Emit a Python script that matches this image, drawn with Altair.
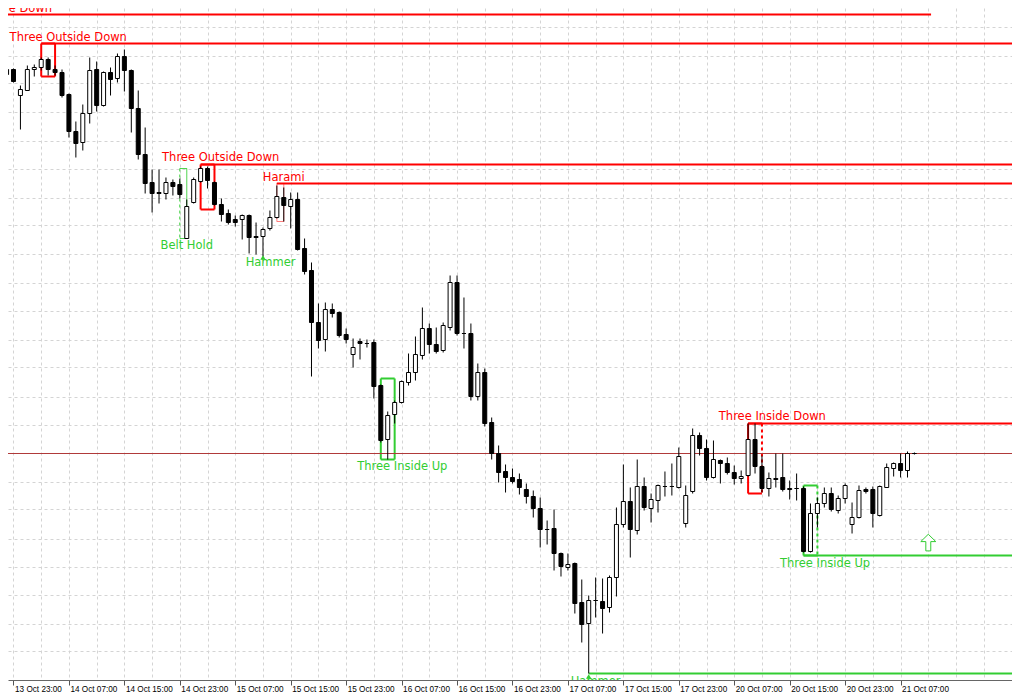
import json
import altair as alt
import pandas as pd

# ---------------- data (hourly bars, index 0 = 13 Oct 23:00) ----------------
bar_index = list(range(-1, 131))

open_ = [1.2106, 1.2111, 1.2085, 1.2090, 1.2111, 1.2113, 1.2121, 1.2111, 1.2108, 1.2086,
         1.2049, 1.2038, 1.2067, 1.2111, 1.2075, 1.2108, 1.2102, 1.2124, 1.2110, 1.2072,
         1.2026, 1.1998, 1.1988, 1.1987, 1.1998, 1.1996, 1.1942, 1.1978, 1.1999, 1.2012,
         1.1998, 1.1976, 1.1967, 1.1961, 1.1961, 1.1965, 1.1944, 1.1944, 1.1952, 1.1963,
         1.1983, 1.1974, 1.1981, 1.1932, 1.1910, 1.1858, 1.1841, 1.1871, 1.1868, 1.1846,
         1.1826, 1.1839, 1.1837, 1.1838, 1.1795, 1.1741, 1.1766, 1.1778, 1.1798, 1.1808,
         1.1825, 1.1852, 1.1836, 1.1830, 1.1853, 1.1898, 1.1847, 1.1847, 1.1784, 1.1808,
         1.1758, 1.1727, 1.1709, 1.1703, 1.1701, 1.1691, 1.1684, 1.1672, 1.1651, 1.1652,
         1.1627, 1.1613, 1.1617, 1.1578, 1.1557, 1.1580, 1.1579, 1.1573, 1.1603, 1.1656,
         1.1679, 1.1650, 1.1694, 1.1672, 1.1680, 1.1694, 1.1694, 1.1693, 1.1657, 1.1689,
         1.1745, 1.1732, 1.1703, 1.1720, 1.1717, 1.1708, 1.1702, 1.1705, 1.1741, 1.1714,
         1.1692, 1.1702, 1.1703, 1.1692, 1.1692, 1.1692, 1.1629, 1.1667, 1.1677, 1.1687,
         1.1670, 1.1682, 1.1656, 1.1663, 1.1691, 1.1691, 1.1665, 1.1693, 1.1712, 1.1717,
         1.1710, 1.1727]

high = [1.2114, 1.2112, 1.2095, 1.2115, 1.2116, 1.2123, 1.2123, 1.2115, 1.2111, 1.2087,
        1.2059, 1.2076, 1.2123, 1.2119, 1.2109, 1.2113, 1.2127, 1.2131, 1.2111, 1.2090,
        1.2053, 1.2011, 1.2011, 1.2003, 1.2001, 1.2002, 1.1981, 1.2003, 1.2014, 1.2014,
        1.1999, 1.1982, 1.1971, 1.1965, 1.1966, 1.1966, 1.1958, 1.1953, 1.1970, 1.1995,
        1.1993, 1.1988, 1.1988, 1.1942, 1.1918, 1.1877, 1.1878, 1.1877, 1.1869, 1.1852,
        1.1842, 1.1842, 1.1841, 1.1841, 1.1796, 1.1769, 1.1780, 1.1800, 1.1827, 1.1844,
        1.1873, 1.1857, 1.1853, 1.1858, 1.1905, 1.1905, 1.1883, 1.1857, 1.1817, 1.1812,
        1.1763, 1.1735, 1.1716, 1.1712, 1.1707, 1.1697, 1.1690, 1.1683, 1.1660, 1.1671,
        1.1628, 1.1627, 1.1618, 1.1601, 1.1585, 1.1603, 1.1602, 1.1605, 1.1673, 1.1716,
        1.1693, 1.1721, 1.1703, 1.1687, 1.1696, 1.1709, 1.1717, 1.1733, 1.1695, 1.1752,
        1.1748, 1.1741, 1.1740, 1.1721, 1.1723, 1.1715, 1.1710, 1.1757, 1.1757, 1.1725,
        1.1708, 1.1727, 1.1727, 1.1700, 1.1707, 1.1694, 1.1677, 1.1683, 1.1693, 1.1693,
        1.1685, 1.1697, 1.1678, 1.1695, 1.1693, 1.1694, 1.1695, 1.1717, 1.1718, 1.1727,
        1.1729, 1.1728]

low = [1.2098, 1.2098, 1.2051, 1.2090, 1.2104, 1.2110, 1.2105, 1.2105, 1.2083, 1.2043,
       1.2023, 1.2030, 1.2057, 1.2069, 1.2074, 1.2085, 1.2098, 1.2089, 1.2048, 1.2021,
       1.1987, 1.1968, 1.1977, 1.1981, 1.1985, 1.1982, 1.1942, 1.1977, 1.1998, 1.1992,
       1.1975, 1.1959, 1.1956, 1.1954, 1.1941, 1.1927, 1.1926, 1.1924, 1.1950, 1.1962,
       1.1959, 1.1952, 1.1930, 1.1906, 1.1804, 1.1832, 1.1829, 1.1863, 1.1843, 1.1837,
       1.1813, 1.1821, 1.1833, 1.1782, 1.1738, 1.1721, 1.1757, 1.1777, 1.1795, 1.1800,
       1.1821, 1.1827, 1.1827, 1.1828, 1.1850, 1.1845, 1.1832, 1.1780, 1.1780, 1.1754,
       1.1721, 1.1698, 1.1688, 1.1697, 1.1686, 1.1677, 1.1663, 1.1633, 1.1636, 1.1610,
       1.1604, 1.1610, 1.1567, 1.1538, 1.1507, 1.1563, 1.1547, 1.1568, 1.1584, 1.1653,
       1.1623, 1.1646, 1.1670, 1.1658, 1.1668, 1.1684, 1.1685, 1.1692, 1.1653, 1.1687,
       1.1725, 1.1700, 1.1702, 1.1697, 1.1706, 1.1696, 1.1697, 1.1704, 1.1707, 1.1688,
       1.1684, 1.1693, 1.1689, 1.1681, 1.1680, 1.1628, 1.1628, 1.1653, 1.1673, 1.1669,
       1.1667, 1.1677, 1.1647, 1.1662, 1.1687, 1.1653, 1.1664, 1.1693, 1.1704, 1.1703,
       1.1703, 1.1726]

close = [1.2111, 1.2099, 1.2091, 1.2111, 1.2113, 1.2121, 1.2111, 1.2108, 1.2085, 1.2049,
         1.2037, 1.2067, 1.2110, 1.2075, 1.2108, 1.2101, 1.2124, 1.2110, 1.2072, 1.2026,
         1.1997, 1.1987, 1.1987, 1.1998, 1.1994, 1.1986, 1.1974, 1.2001, 1.2012, 1.2000,
         1.1976, 1.1966, 1.1958, 1.1958, 1.1965, 1.1943, 1.1943, 1.1951, 1.1963, 1.1984,
         1.1975, 1.1981, 1.1931, 1.1909, 1.1858, 1.1840, 1.1871, 1.1867, 1.1845, 1.1841,
         1.1833, 1.1837, 1.1837, 1.1794, 1.1740, 1.1765, 1.1778, 1.1799, 1.1808, 1.1826,
         1.1852, 1.1836, 1.1829, 1.1855, 1.1898, 1.1847, 1.1847, 1.1784, 1.1808, 1.1757,
         1.1727, 1.1708, 1.1703, 1.1699, 1.1693, 1.1684, 1.1672, 1.1651, 1.1651, 1.1627,
         1.1614, 1.1616, 1.1577, 1.1556, 1.1580, 1.1580, 1.1572, 1.1603, 1.1656, 1.1679,
         1.1651, 1.1694, 1.1673, 1.1681, 1.1695, 1.1694, 1.1694, 1.1724, 1.1685, 1.1745,
         1.1732, 1.1703, 1.1721, 1.1717, 1.1708, 1.1702, 1.1704, 1.1741, 1.1714, 1.1692,
         1.1702, 1.1701, 1.1691, 1.1691, 1.1692, 1.1629, 1.1667, 1.1677, 1.1687, 1.1671,
         1.1682, 1.1695, 1.1663, 1.1690, 1.1689, 1.1667, 1.1694, 1.1713, 1.1717, 1.1710,
         1.1727, 1.1727]

tick_labels = ["13 Oct 23:00", "14 Oct 07:00", "14 Oct 15:00", "14 Oct 23:00",
               "15 Oct 07:00", "15 Oct 15:00", "15 Oct 23:00", "16 Oct 07:00",
               "16 Oct 15:00", "16 Oct 23:00", "17 Oct 07:00", "17 Oct 15:00",
               "17 Oct 23:00", "20 Oct 07:00", "20 Oct 15:00", "20 Oct 23:00",
               "21 Oct 07:00"]

RED = "#ff0000"
PINK = "#ff6a6a"
GREEN = "#32cd32"

# pattern boxes
box_from = [4, 27, 38, 24, 53, 106, 114]
box_to = [6, 29, 39, 25, 55, 108, 116]
box_top = [1.2137, 1.2016, 1.1997, 1.2012, 1.1802, 1.1757, 1.1695]
box_bottom = [1.2104, 1.1971, 1.1959, 1.1942, 1.1721, 1.1687, 1.1625]
box_color = [RED, RED, PINK, GREEN, GREEN, RED, GREEN]
box_width = [2, 2, 1, 1, 2, 2, 2]
box_dashed_side = ["", "", "", "left", "", "right", "right"]

# pattern level lines
level_price = [1.2166, 1.2137, 1.2016, 1.1997, 1.1757, 1.1625, 1.1507]
level_from = [-10, 4, 27, 38, 106, 114, 83]
level_to = [132.4, 150, 150, 150, 150, 150, 150]
level_color = [RED, RED, RED, RED, RED, GREEN, GREEN]

# pattern names
label_text = ["Three Outside Down", "Three Outside Down", "Three Outside Down", "Harami",
              "Belt Hold", "Hammer", "Three Inside Up", "Three Inside Down",
              "Three Inside Up", "Hammer"]
label_x = [-2.9, 7.9, 29.9, 39.0, 25.0, 37.1, 56.1, 109.5, 117.1, 84.0]
label_price = [1.2172, 1.2143, 1.2023, 1.2003, 1.1935, 1.1918, 1.1714, 1.1764, 1.1617, 1.1499]
label_color = [RED, RED, RED, RED, GREEN, GREEN, GREEN, RED, GREEN, GREEN]

hammer_x = [36, 83]
hammer_price = [1.1923, 1.1504]
signal_x = [132]
signal_price = [1.1638]

# ---------------- tables ----------------
df = pd.DataFrame({"i": bar_index, "o": open_, "h": high, "l": low, "c": close})
df["dir"] = ["up" if c > o else "down" for o, c in zip(open_, close)]

seg = []
for x1, x2, t, b, col, w, side in zip(box_from, box_to, box_top, box_bottom,
                                      box_color, box_width, box_dashed_side):
    seg.append(dict(x=x1, x2=x2, y=t, y2=t, col=col, w=w, dash="solid"))
    seg.append(dict(x=x1, x2=x2, y=b, y2=b, col=col, w=w, dash="solid"))
    seg.append(dict(x=x1, x2=x1, y=t, y2=b, col=col, w=w,
                    dash="dashed" if side == "left" else "solid"))
    seg.append(dict(x=x2, x2=x2, y=t, y2=b, col=col, w=w,
                    dash="dashed" if side == "right" else "solid"))
for p, a, z, col in zip(level_price, level_from, level_to, level_color):
    seg.append(dict(x=a, x2=z, y=p, y2=p, col=col, w=2, dash="solid"))
seg_df = pd.DataFrame(seg)

lab_df = pd.DataFrame({"x": label_x, "p": label_price, "t": label_text, "col": label_color})
ham_df = pd.DataFrame({"x": hammer_x, "p": hammer_price})
sig_df = pd.DataFrame({"x": signal_x, "p": signal_price})
bid_df = pd.DataFrame({"p": [close[-1]]})

# ---------------- scales / axes ----------------
xs = alt.Scale(domain=[-0.0714, 143.357], nice=False, zero=False)
ys = alt.Scale(domain=[1.15005, 1.21725], nice=False, zero=False)

GRID = "#d4d4d4"
grid_prices = [round(1.2180 - round(55 + 28.4 * k) / 10000, 4) for k in range(-1, 23)]

label_expr = ("datum.value % 8 === 0 && datum.value <= 128 ? "
              + json.dumps(tick_labels) + "[datum.value / 8] : ''")

xaxis = alt.Axis(
    values=list(range(0, 141, 4)), grid=True, gridColor=GRID, gridDash=[3, 3],
    gridWidth=1, domainColor="#666666", domainWidth=1,
    tickColor={"condition": {"test": "datum.value % 8 === 0 && datum.value <= 128",
                             "value": "#555555"}, "value": "rgba(0,0,0,0)"},
    tickSize=5, labelExpr=label_expr, labelAlign="left", labelBaseline="top",
    labelPadding=0, labelOffset=1, labelFont="Liberation Sans", labelFontSize=8.2,
    labelColor="#000000", labelOverlap=False, labelFlush=False, labelBound=False,
    title=None)
yaxis = alt.Axis(values=grid_prices, grid=True, gridColor=GRID, gridDash=[3, 3],
                 gridWidth=1, labels=False, ticks=False, domain=False, title=None)

X = lambda f: alt.X(f, scale=xs, axis=xaxis)
Y = lambda f: alt.Y(f, scale=ys, axis=yaxis)

levels = alt.Chart(seg_df).mark_rule(clip=True).encode(
    x=X("x:Q"), x2="x2:Q", y=Y("y:Q"), y2="y2:Q",
    color=alt.Color("col:N", scale=None),
    strokeWidth=alt.StrokeWidth("w:Q", scale=None),
    strokeDash=alt.StrokeDash("dash:N", scale=alt.Scale(domain=["solid", "dashed"],
                                                       range=[[1, 0], [3, 3]]), legend=None),
)

bid = alt.Chart(bid_df).mark_rule(color="#b03a3a", strokeWidth=1, clip=True).encode(
    y=Y("p:Q"))

wicks = alt.Chart(df).mark_rule(color="#000000", strokeWidth=1, clip=True).encode(
    x=X("i:Q"), y=Y("l:Q"), y2="h:Q")

bodies = alt.Chart(df).mark_bar(size=4, stroke="#000000", strokeWidth=1, clip=True,
                                opacity=1).encode(
    x=X("i:Q"), y=Y("o:Q"), y2="c:Q",
    fill=alt.Fill("dir:N", scale=alt.Scale(domain=["up", "down"], range=["#ffffff", "#000000"]),
                  legend=None),
)

hammers = alt.Chart(ham_df).mark_point(shape="triangle-up", filled=True, size=30,
                                       color=GREEN, opacity=1, clip=True).encode(
    x=X("x:Q"), y=Y("p:Q"))

arrow_path = "M0,-1.1 L1,-0.12 L0.33,-0.12 L0.33,1.12 L-0.33,1.12 L-0.33,-0.12 L-1,-0.12 Z"
signal = alt.Chart(sig_df).mark_point(shape=arrow_path, size=225, filled=True,
                                      fill="#ffffff", stroke=GREEN, strokeWidth=1,
                                      opacity=1, clip=True).encode(
    x=X("x:Q"), y=Y("p:Q"))

texts = alt.Chart(lab_df).mark_text(font="DejaVu Sans", fontSize=11.5, align="center",
                                    baseline="middle", clip=True).encode(
    x=X("x:Q"), y=Y("p:Q"), text="t:N", color=alt.Color("col:N", scale=None))

chart = alt.layer(levels, bid, wicks, bodies, hammers, signal, texts).properties(
    width=1004, height=672,
    padding={"left": 0, "top": 0, "right": 0, "bottom": 16},
    autosize=alt.AutoSizeParams(type="none"),
    background="#ffffff",
).configure_view(strokeWidth=0)

chart.save("out.html", embed_options={"renderer": "svg", "actions": False})
